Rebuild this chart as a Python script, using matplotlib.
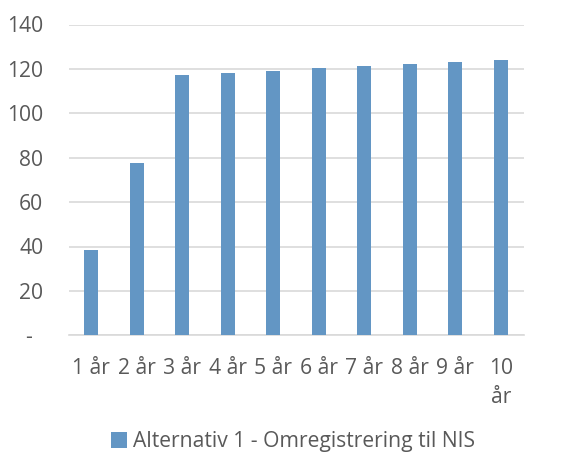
import matplotlib.pyplot as plt
from matplotlib.patches import Patch

plt.rcParams['font.family'] = ['Open Sans', 'DejaVu Sans']

# data
categories = ["1 år", "2 år", "3 år", "4 år", "5 år", "6 år", "7 år", "8 år", "9 år", "10\når"]
values = [38.4, 77.5, 117.2, 118.3, 119.1, 120.2, 121.1, 122.0, 123.0, 124.0]
series_name = "Alternativ 1 - Omregistrering til NIS"
yticks = [0, 20, 40, 60, 80, 100, 120, 140]
ytick_labels = ["-  ", "20", "40", "60", "80", "100", "120", "140"]

bar_color = "#6396C4"
grid_color = "#D9D9D9"
text_color = "#595959"
fs = 15.2

fig = plt.figure(figsize=(5.61, 4.59), dpi=100)
ax = fig.add_axes([68.5 / 561, 1 - 335.3 / 459, 455 / 561, 310.8 / 459])

x = list(range(len(categories)))
ax.bar(x, values, width=0.31, color=bar_color, zorder=3)

ax.set_xlim(-0.5, len(categories) - 0.5)
ax.set_ylim(0, 140)
ax.set_yticks(yticks)
ax.set_yticklabels(ytick_labels)
ax.set_xticks(x)
ax.set_xticklabels(categories, linespacing=1.5)

ax.grid(axis="y", color=grid_color, linewidth=1.2, zorder=0)
for side in ["top", "right", "left"]:
    ax.spines[side].set_visible(False)
ax.spines["bottom"].set_color(grid_color)
ax.spines["bottom"].set_linewidth(1.2)

ax.tick_params(axis="y", length=0, pad=18, labelsize=fs, labelcolor=text_color)
ax.tick_params(axis="x", length=0, pad=16, labelsize=fs, labelcolor=text_color)
for lbl in ax.get_xticklabels():
    lbl.set_verticalalignment("top")

handle = Patch(facecolor=bar_color, edgecolor="none")
fig.legend([handle], [series_name], loc="center", bbox_to_anchor=(293 / 561, 1 - 442 / 459),
           frameon=False, fontsize=fs, labelcolor=text_color,
           handlelength=0.75, handleheight=0.75, handletextpad=0.3)

fig.savefig("out.png", dpi=100)
